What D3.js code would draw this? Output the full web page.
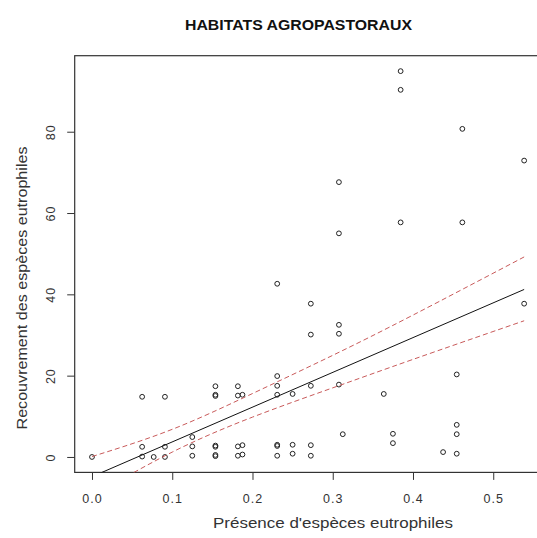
<!DOCTYPE html>
<html>
<head>
<meta charset="utf-8">
<script src="https://cdn.jsdelivr.net/npm/d3@7"></script>
<style>
  html, body { margin: 0; padding: 0; background: #fff; }
  svg { display: block; }
  text { font-family: "Liberation Sans", Arial, sans-serif; fill: #222; }
</style>
</head>
<body>
<svg id="chart" width="537" height="538"></svg>
<script>
// ---- data ----
const titleText = "HABITATS AGROPASTORAUX";
const xLabel = "Présence d'espèces eutrophiles";
const yLabel = "Recouvrement des espèces eutrophiles";

const presence = [
  0,
  0.0625, 0.0625, 0.0625,
  0.0769,
  0.0909, 0.0909, 0.0909,
  0.125, 0.125, 0.125,
  0.1538, 0.1538, 0.1538, 0.1538, 0.1538, 0.1538, 0.1538,
  0.1818, 0.1818, 0.1818, 0.1818,
  0.1875, 0.1875, 0.1875,
  0.2308, 0.2308, 0.2308, 0.2308, 0.2308, 0.2308, 0.2308,
  0.25, 0.25, 0.25,
  0.2727, 0.2727, 0.2727, 0.2727, 0.2727,
  0.3077, 0.3077, 0.3077, 0.3077, 0.3077,
  0.3125,
  0.3636,
  0.375, 0.375,
  0.3846, 0.3846, 0.3846,
  0.4375,
  0.4545, 0.4545, 0.4545, 0.4545,
  0.4615, 0.4615,
  0.5385, 0.5385
];
const recouvrement = [
  0,
  14.8, 2.5, 0.1,
  0,
  14.8, 2.5, 0,
  4.9, 2.6, 0.3,
  17.4, 15.0, 15.3, 2.5, 2.8, 0.2, 0.5,
  17.4, 15.1, 2.6, 0.3,
  15.3, 2.9, 0.6,
  42.6, 19.9, 17.5, 15.3, 2.7, 3.0, 0.3,
  15.5, 3.0, 0.8,
  37.7, 30.1, 17.5, 2.9, 0.3,
  67.6, 55.0, 32.5, 30.3, 17.8,
  5.6,
  15.5,
  5.7, 3.4,
  94.9, 90.3, 57.7,
  1.2,
  20.3, 7.9, 5.6, 0.8,
  80.7, 57.7,
  72.9, 37.7
];

// fitted regression line and confidence band
const fitX = [0, 0.5385];
const fitY = [-4.85, 41.2];
const bandX = [0, 0.1, 0.2, 0.3, 0.4, 0.5385];
const upperY = [0.1, 6.8, 15.6, 25.0, 34.9, 49.2];
const lowerY = [-9.7, 1.2, 9.8, 17.0, 24.0, 33.5];

const xTicks = [0, 0.1, 0.2, 0.3, 0.4, 0.5];
const yTicks = [0, 20, 40, 60, 80];
const xDomain = [-0.02154, 0.56];
const yDomain = [-3.796, 98.696];

// ---- layout ----
const plot = { left: 74.7, right: 541.4, top: 55.7, bottom: 472.4 };
const svg = d3.select("#chart");

const x = d3.scaleLinear().domain(xDomain).range([plot.left, plot.right]);
const y = d3.scaleLinear().domain(yDomain).range([plot.bottom, plot.top]);

svg.append("defs").append("clipPath").attr("id", "clip")
  .append("rect")
  .attr("x", plot.left).attr("y", plot.top)
  .attr("width", plot.right - plot.left).attr("height", plot.bottom - plot.top);

// title
svg.append("text")
  .attr("x", 298.5).attr("y", 29.5)
  .attr("text-anchor", "middle")
  .attr("font-size", 15.5).attr("font-weight", "bold")
  .attr("textLength", 227).attr("lengthAdjust", "spacingAndGlyphs")
  .style("fill", "#111")
  .text(titleText);

// x axis
const xAxis = d3.axisBottom(x).tickValues(xTicks).tickFormat(d3.format(".1f"))
  .tickSize(7.5).tickSizeOuter(0).tickPadding(14);
const gx = svg.append("g").attr("transform", `translate(0,${plot.bottom})`).call(xAxis);
gx.select(".domain").remove();
gx.selectAll(".tick line").attr("stroke", "#333");
gx.selectAll(".tick text").attr("font-size", 12.5).attr("font-family", "Liberation Sans, Arial, sans-serif")
  .style("fill", "#333").attr("letter-spacing", "1px");

// y axis
const yAxis = d3.axisLeft(y).tickValues(yTicks).tickFormat(d3.format("d"))
  .tickSize(7.5).tickSizeOuter(0);
const gy = svg.append("g").attr("transform", `translate(${plot.left},0)`).call(yAxis);
gy.select(".domain").remove();
gy.selectAll(".tick line").attr("stroke", "#333");
gy.selectAll(".tick text")
  .attr("x", null).attr("dy", null)
  .attr("transform", "translate(-19.5,0) rotate(-90)")
  .attr("text-anchor", "middle")
  .attr("font-size", 12.5).attr("font-family", "Liberation Sans, Arial, sans-serif")
  .style("fill", "#333").attr("letter-spacing", "1px");

// axis titles
svg.append("text")
  .attr("x", 333).attr("y", 528)
  .attr("text-anchor", "middle")
  .attr("font-size", 14)
  .attr("textLength", 240).attr("lengthAdjust", "spacingAndGlyphs")
  .style("fill", "#333")
  .text(xLabel);

svg.append("text")
  .attr("transform", "translate(27,288) rotate(-90)")
  .attr("text-anchor", "middle")
  .attr("font-size", 14)
  .attr("textLength", 283).attr("lengthAdjust", "spacingAndGlyphs")
  .style("fill", "#333")
  .text(yLabel);

// plot box
svg.append("rect")
  .attr("x", plot.left).attr("y", plot.top)
  .attr("width", plot.right - plot.left).attr("height", plot.bottom - plot.top)
  .attr("fill", "none").attr("stroke", "#333").attr("stroke-width", 1.2);

const gPlot = svg.append("g").attr("clip-path", "url(#clip)");

// points
gPlot.selectAll("circle.pt")
  .data(d3.zip(presence, recouvrement))
  .join("circle")
  .attr("class", "pt")
  .attr("cx", d => x(d[0])).attr("cy", d => y(d[1]))
  .attr("r", 2.4)
  .attr("fill", "none").attr("stroke", "#222").attr("stroke-width", 1);

// regression line
const line = d3.line().x(d => x(d[0])).y(d => y(d[1]));
gPlot.append("path")
  .datum(d3.zip(fitX, fitY))
  .attr("d", line)
  .attr("fill", "none").attr("stroke", "#111").attr("stroke-width", 1);

// confidence band
const curved = d3.line().x(d => x(d[0])).y(d => y(d[1])).curve(d3.curveNatural);
[upperY, lowerY].forEach(arr => {
  gPlot.append("path")
    .datum(d3.zip(bandX, arr))
    .attr("d", curved)
    .attr("fill", "none").attr("stroke", "#c85a5a").attr("stroke-width", 1)
    .attr("stroke-dasharray", "5,3");
});
</script>
</body>
</html>
